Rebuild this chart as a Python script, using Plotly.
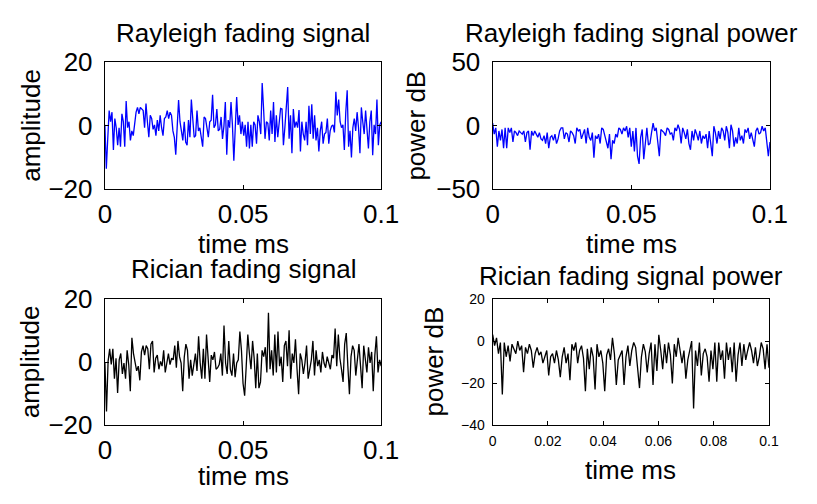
import numpy as np
import plotly.graph_objects as go

# ---------------- data ----------------
T_MAX_MS = 0.1

rayleigh_amp = [
    0.2, -13.6, -4.2, 4.7, 1.2, 4.2, -7.7, 2.2, -0.7, -6.2, -0.7, -6.7, 3.7, 1.2, -6.7, 7.7,
    -0.7, 1.2, -4.7, -1.7, -3.2, 1.7, 4.2, 5.7, 3.7, 5.7, 5.2, 4.7, -0.7, 6.9, 1.2, -3.7,
    3.2, 2.2, -1.2, 0.2, -3.2, 1.7, -1.7, 3.2, -0.7, -3.2, 2.2, 2.7, 4.7, 2.2, 4.2, 3.2,
    -1.7, -3.7, -9.2, 1.2, 8.0, 1.2, -1.7, -4.7, 1.2, -5.2, -6.2, 1.7, -3.7, 8.2, 2.2, -3.7,
    -3.2, 4.7, -1.7, -0.7, -3.7, -6.7, 2.7, 2.2, -0.7, -3.7, 1.2, 1.7, 9.7, -0.7, 0.2, 5.2,
    -1.7, -1.2, 2.7, -4.2, -0.2, 7.4, -9.2, 1.7, -0.7, 7.4, 0.2, -11.1, -0.7, 9.0, 0.2, 3.2,
    -2.7, 1.2, -3.2, 0.2, -6.7, 1.2, -7.2,
    0.2, -6.7, 1.2, 0.2, -5.7, 3.2, 1.2, -2.7, 13.4, 5.2, -4.2, 1.2, 0.7, -4.7, 4.7, -2.7,
    7.4, -5.2, 3.2, -3.7, 1.2, 5.4, 5.2, -6.2, -0.7, 6.2, 12.1, -4.2, 3.2, -8.7, 5.2, -0.7,
    1.2, -0.7, 4.9, -8.2, 1.2, -2.7, -4.7, 1.2, -6.2, 6.2, -2.7, 6.7, -4.2, 3.2, -4.7, -0.7,
    -8.2, -1.7, 1.2, -5.7, -2.7, -2.2, 2.2, -5.7, -1.7, -0.2, 0.2, -2.2, 10.6, 3.2, 8.2, 1.2,
    -0.7, 0.2, -7.7, 4.2, 11.1, -6.7, -1.7, -10.1, -0.7, 2.2, -1.7, 4.2, -0.7, -8.7, 5.7, 1.2,
    -2.7, 4.7, -1.7, -7.2, 1.2, 4.7, -9.4, 0.2, -2.7, 8.2, -6.2, 0.2, 1.2,
]

rayleigh_pow_db = [
    1.9, -6.8, -1.9, -16.7, -4.3, -11.7, -3.1, -17.9, -1.9, -17.9, -1.9, -5.6, -1.9, -13.0, -4.3, -5.6,
    -8.0, -4.3, -5.6, -6.8, -4.3, -13.0, -5.6, -4.3, -19.1, -4.3, -8.0, -4.3, -6.8, -9.3, -5.6, -10.5,
    -11.7, -8.0, -14.2, -5.6, -17.9, -9.3, -8.0, -11.7, -6.8, -14.2, -10.5, -4.3, -1.9, -1.9, -10.5, -5.6,
    -6.8, -13.0, -4.3, -5.6, -8.0, -14.2, -1.9, -4.3, -3.1, -10.5, -6.8, -3.1, -14.2, -1.9, -9.3, -11.7,
    -5.6, -25.3, -8.0, -10.5, -6.8, -14.2, -1.9, -3.1, -8.0, -14.2, -17.9, -6.8, -26.6, -11.7, -14.2, -6.8,
    -9.3, -1.9, -3.1, -6.8, -1.9, -4.3, -0.6, -9.3, -1.9, -16.7, -4.3, -20.4, -1.9, -24.1, -30.3, -9.3,
    -3.1, -26.6, -14.2,
    -1.9, -15.4, -14.2, -5.6, 1.9, -4.3, -1.9, -13.0, -24.1, -3.1, -4.3, -5.6, -8.0, -1.9, -3.1, -6.8,
    -5.6, -11.7, -1.9, -4.3, 0.6, -3.1, -14.2, -1.9, -5.6, -10.5, -3.1, -14.2, -19.1, -4.3, -11.7, -3.1,
    -6.8, -11.7, -4.3, -14.2, -8.0, -10.5, -6.8, -17.9, -4.3, -14.2, -24.1, -0.6, -5.6, -14.2, -4.3, -10.5,
    -1.9, -4.3, -11.7, -0.6, -5.6, -17.9, 0.6, -4.3, -16.7, -9.3, -14.2, -1.9, -11.7, -8.0, -14.2, -3.1,
    -5.6, -1.9, -10.5, -5.6, -11.7, -16.7, -4.3, -1.9, -6.8, -5.6, -0.6, -4.3, -1.9, -11.7, -24.1, -13.0,
]

rician_amp = [
    -0.3, -15.7, 0.2, 4.2, -0.8, 4.2, -5.3, 1.2, -9.8, 0.7, 2.7, -3.8, -0.3, -5.3, 3.7, -0.8,
    -9.3, 7.7, 2.7, -0.3, -2.8, -1.3, -5.8, 3.2, 5.2, 2.2, 5.2, 4.2, -2.3, 5.7, 6.7, -3.3,
    1.2, 2.2, -2.3, 0.2, -1.3, 3.7, -3.3, -0.3, 2.7, -0.8, 1.2, 0.7, 5.2, -1.8, 6.7, 1.7,
    -0.3, -9.3, 1.7, 5.7, 3.7, -5.3, 0.7, -4.3, -0.3, 2.7, -2.8, 8.2, -0.3, -5.3, 4.2, -5.3,
    8.7, 1.7, -6.3, 2.2, 0.7, 3.2, -2.3, -1.8, -0.8, 2.7, -4.3, 11.6, -0.3, -3.8, 6.7, -2.3,
    -4.3, 2.7, -4.8, -0.3, 0.7, 9.7, 3.7, -6.8, -10.7, -1.3, 8.7, 2.7, -2.3, 6.7, 1.2, -8.3,
    2.7, -8.3,
    -6.3, 3.7, 1.7, 4.7, -3.3, 15.6, -2.3, 3.7, -4.3, 8.7, -3.3, 9.7, -1.3, 1.7, -6.3, 5.2,
    6.7, -1.3, 10.1, -5.3, 2.7, -0.3, 7.2, -2.3, -10.2, 2.7, 0.7, -3.8, -0.3, 5.2, -5.3, -2.3,
    0.7, 6.7, -4.3, 3.7, -1.3, 0.7, -3.3, 3.2, -0.3, -1.8, 1.7, -0.3, -2.3, 2.2, 1.2, 10.6,
    -1.3, 8.7, 1.2, -2.3, -6.3, 5.7, 9.2, -1.3, -10.2, 1.7, 5.2, 3.7, -4.3, 0.7, 5.7, -1.3,
    -8.3, 5.2, 1.7, -3.3, 4.7, -0.3, 3.2, -9.3, 2.2, 8.2, -3.3, 0.7, -1.3,
]

rician_pow_db = [
    3.0, -2.2, 1.5, -6.0, -0.7, -25.4, -0.7, -7.5, -2.2, -9.7, -1.5, -3.7, -6.0, 0.0, -4.5, -2.2,
    -14.9, -3.0, -6.0, -1.5, -4.5, -12.7, -6.0, -3.0, -6.7, -5.2, -10.5, -7.5, -4.5, -16.4, -7.5, -6.0,
    -10.5, -4.5, -9.0, -17.2, -7.5, -3.0, -10.5, -6.0, -18.7, -1.5, -4.5, -0.7, -10.5, -4.5, -2.2, -8.2,
    -23.9, -3.7, -13.4, -3.0, -7.5, -23.1, -1.5, -7.5, -4.5, -10.5, -23.9, -6.7, -3.7, -9.0, 1.5, -6.0,
    -20.9, -9.0, -6.7, -4.5, -20.9, -7.5, -2.2, -11.9, -4.5, -0.7, -3.0, -13.4, -22.4, -7.5, -1.5, -5.2,
    -14.9,
    -6.0, -0.7, -20.9, -1.5, -14.2, 3.0, -4.5, -13.4, -1.5, -10.5, -0.7, -6.7, -20.2, -1.5, -7.5, 1.5,
    -4.5, -10.5, -4.5, -17.9, -9.0, -4.5, 0.0, -32.1, -4.5, -11.9, -0.7, -16.4, -6.0, -3.7, -7.5, -19.4,
    -4.5, -13.4, -0.7, -19.4, -0.7, -9.0, -4.5, -17.9, -0.7, -9.0, -3.0, -14.9, -0.7, -19.4, -6.7, -0.7,
    -11.9, -1.5, -9.0, -4.5, -0.7, -4.5, -10.5, -3.0, -11.9, -7.5, -0.7, -3.7, -13.4, -1.5, -12.7,
]

titles = ["Rayleigh fading signal", "Rayleigh fading signal power",
          "Rician fading signal", "Rician fading signal power"]
ylabels = ["amplitude", "power dB", "amplitude", "power dB"]
xlabel = "time ms"

x_ticks_big = [0, 0.05, 0.1]
x_ticks_big_text = ["0", "0.05", "0.1"]
x_ticks_small = [0, 0.02, 0.04, 0.06, 0.08, 0.1]
x_ticks_small_text = ["0", "0.02", "0.04", "0.06", "0.08", "0.1"]

# ---------------- layout helpers ----------------
W, H = 817, 504
FONT = "Liberation Sans, Arial, Helvetica, sans-serif"
BIG = 26
SMALL = 14


def fx(px):
    return px / W


def fy(py):
    return 1 - py / H


# pixel boxes of the four axes: (left, right, top, bottom)
boxes = [(101, 386, 50, 185), (501, 787, 50, 185), (101, 386, 302, 436), (501, 786, 302, 436)]
yranges = [[-20, 20], [-50, 50], [-20, 20], [-40, 20]]
ytickvals = [[-20, 0, 20], [-50, 0, 50], [-20, 0, 20], [-40, -20, 0, 20]]
colors = ["#0000ff", "#0000ff", "#000000", "#000000"]
series = [rayleigh_amp, rayleigh_pow_db, rician_amp, rician_pow_db]

fig = go.Figure()
for i, vals in enumerate(series):
    t = np.linspace(0, T_MAX_MS, len(vals))
    sfx = "" if i == 0 else str(i + 1)
    fig.add_trace(go.Scatter(x=t, y=vals, mode="lines",
                             line=dict(color=colors[i], width=1.3),
                             xaxis="x" + sfx, yaxis="y" + sfx,
                             showlegend=False, hoverinfo="skip"))

layout = dict(width=W, height=H, margin=dict(l=0, r=0, t=0, b=0),
              paper_bgcolor="white", plot_bgcolor="white",
              font=dict(family=FONT, color="black", size=BIG), showlegend=False)

for i, (l, r, t, b) in enumerate(boxes):
    sfx = "" if i == 0 else str(i + 1)
    small = (i == 3)
    tfs = SMALL if small else BIG
    common = dict(showline=True, linecolor="black", linewidth=1.3, mirror="ticks",
                  ticks="inside", ticklen=4, tickwidth=1, tickcolor="black",
                  showgrid=False, zeroline=False, tickfont=dict(size=tfs, family=FONT))
    layout["xaxis" + sfx] = dict(domain=[fx(l), fx(r)], anchor="y" + sfx, range=[0, T_MAX_MS],
                                 tickvals=x_ticks_small if small else x_ticks_big,
                                 ticktext=x_ticks_small_text if small else x_ticks_big_text,
                                 ticklabelstandoff=3 if small else 2, **common)
    layout["yaxis" + sfx] = dict(domain=[fy(b), fy(t)], anchor="x" + sfx, range=yranges[i],
                                 tickvals=ytickvals[i], ticklabelstandoff=4 if small else 6, **common)

fig.update_layout(**layout)

# titles and axis labels as annotations
title_y = [19, 19, 270, 278]
xlabel_y = [243, 243, 490, 484]
ylabel_x = [24, 421, 24, 441]
ann = []
for i, (l, r, t, b) in enumerate(boxes):
    cx = (l + r) / 2
    cy = (t + b) / 2
    ann.append(dict(text=titles[i], x=fx(cx), y=fy(title_y[i]), xref="paper", yref="paper",
                    xanchor="center", yanchor="middle", showarrow=False,
                    font=dict(size=BIG, family=FONT)))
    ann.append(dict(text=xlabel, x=fx(cx), y=fy(xlabel_y[i]), xref="paper", yref="paper",
                    xanchor="center", yanchor="middle", showarrow=False,
                    font=dict(size=BIG, family=FONT)))
    ann.append(dict(text=ylabels[i], x=fx(ylabel_x[i]), y=fy(cy), xref="paper", yref="paper",
                    xanchor="center", yanchor="middle", textangle=-90, showarrow=False,
                    font=dict(size=BIG, family=FONT)))
fig.update_layout(annotations=ann)

fig.write_html("out.html")
